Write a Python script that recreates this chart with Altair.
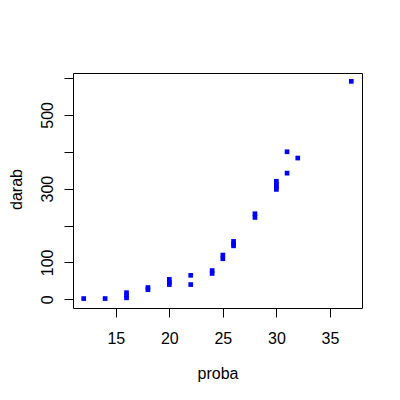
import altair as alt
import pandas as pd

proba = [12, 14, 16, 16, 16, 18, 18, 20, 20, 20, 22, 22, 24, 24, 25, 25,
         26, 26, 26, 28, 28, 30, 30, 30, 30, 31, 31, 32, 37]
darab = [2, 2, 4, 10, 18, 26, 32, 40, 46, 54, 40, 65, 70, 78, 110, 120,
         145, 150, 157, 222, 232, 298, 305, 312, 320, 342, 400, 383, 591]

x_ticks = [15, 20, 25, 30, 35]
y_ticks = [0, 100, 200, 300, 400, 500, 600]

df = pd.DataFrame({"proba": proba, "darab": darab})

FONT = "Liberation Sans"
FS = 16

chart = alt.Chart(df).mark_square(size=22, color="#0000FF", opacity=1).encode(
    x=alt.X("proba:Q",
            scale=alt.Scale(domain=[11, 38], nice=False, zero=False),
            axis=alt.Axis(values=x_ticks, title="proba", grid=False, domain=False,
                          tickSize=9, tickColor="black", labelPadding=26,
                          labelFont=FONT, labelFontSize=FS, labelColor="black",
                          labelBaseline="alphabetic", labelFlush=False,
                          titleFont=FONT, titleFontSize=FS, titleFontWeight="normal",
                          titleColor="black", titleBaseline="alphabetic",
                          titleY=70)),
    y=alt.Y("darab:Q",
            scale=alt.Scale(domain=[-23.6, 613.6], nice=False, zero=False),
            axis=alt.Axis(values=y_ticks, title="darab", grid=False, domain=False,
                          tickSize=9, tickColor="black", labelPadding=12,
                          labelAngle=270, labelAlign="center", labelBaseline="alphabetic",
                          labelFlush=False, labelOverlap=False,
                          labelExpr="(datum.value==200||datum.value==400||datum.value==600) ? '' : datum.label",
                          labelFont=FONT, labelFontSize=FS, labelColor="black",
                          titleFont=FONT, titleFontSize=FS, titleFontWeight="normal",
                          titleColor="black", titleAngle=270, titleBaseline="alphabetic",
                          titleAlign="center", titleX=-52, titleY=116)),
).properties(
    width=289, height=235,
    autosize=alt.AutoSizeParams(type="none"),
    padding={"left": 65, "top": 65, "right": 30, "bottom": 84},
    background="white",
).configure_view(stroke="black", strokeWidth=1)

chart.save("out.html", embed_options={"renderer": "svg", "actions": False})
